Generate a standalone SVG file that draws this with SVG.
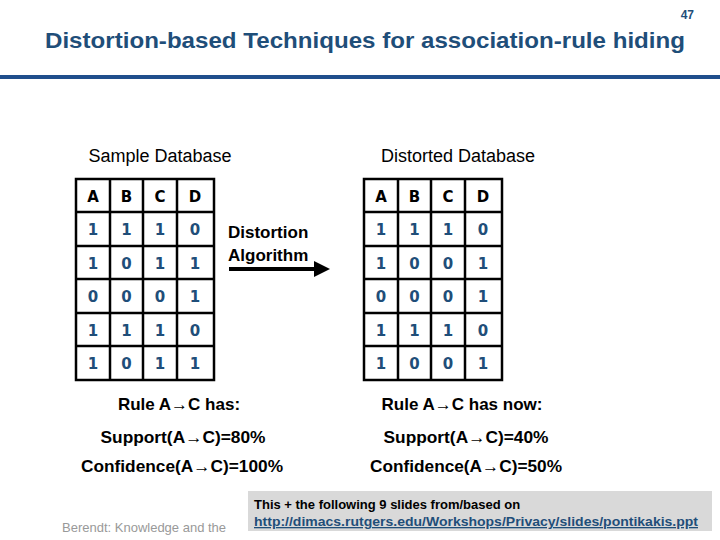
<svg xmlns="http://www.w3.org/2000/svg" width="720" height="540" viewBox="0 0 720 540">
<style>
.t{font-family:"Liberation Sans",Arial,sans-serif}
.h{font-family:"DejaVu Sans",sans-serif;font-weight:bold;font-size:15px;fill:#000;text-anchor:middle}
.d{font-family:"DejaVu Sans",sans-serif;font-weight:bold;font-size:15px;fill:#1f4e79;text-anchor:middle}
.g{fill:none;stroke:#000;stroke-width:2.5}
.r{font-family:"Liberation Sans",Arial,sans-serif;font-weight:bold;font-size:17px;text-anchor:middle;fill:#000}
</style>
<defs><marker id="ah" markerWidth="4" markerHeight="4" refX="1" refY="2" orient="auto"><path d="M0,0L4,2L0,4z" fill="#000"/></marker></defs>
<rect width="720" height="540" fill="#fff"/>
<text class="t" x="694" y="19" font-size="12" font-weight="bold" fill="#1f4e79" text-anchor="end">47</text>
<text class="t" x="365" y="48" font-size="22" font-weight="bold" fill="#1f4e79" text-anchor="middle" textLength="640" lengthAdjust="spacingAndGlyphs">Distortion-based Techniques for association-rule hiding</text>
<rect x="0" y="75" width="720" height="4" fill="#1f4e8c"/>
<g id="sample">
<text class="t" x="160" y="162" font-size="18" text-anchor="middle">Sample Database</text>
<g class="g"><rect x="76" y="179" width="138" height="201"/><path d="M110,179V380M143,179V380M177,179V380M76,212H214M76,246H214M76,279H214M76,313H214M76,346H214"/></g>
<g class="h"><text x="93" y="202">A</text><text x="126.5" y="202">B</text><text x="160" y="202">C</text><text x="195" y="202">D</text></g>
<g class="d">
<text x="93" y="235">1</text><text x="126.5" y="235">1</text><text x="160" y="235">1</text><text x="195" y="235">0</text>
<text x="93" y="269">1</text><text x="126.5" y="269">0</text><text x="160" y="269">1</text><text x="195" y="269">1</text>
<text x="93" y="302">0</text><text x="126.5" y="302">0</text><text x="160" y="302">0</text><text x="195" y="302">1</text>
<text x="93" y="336">1</text><text x="126.5" y="336">1</text><text x="160" y="336">1</text><text x="195" y="336">0</text>
<text x="93" y="369">1</text><text x="126.5" y="369">0</text><text x="160" y="369">1</text><text x="195" y="369">1</text>
</g>
</g>
<g id="algo">
<text class="t" x="228" y="238" font-size="17" font-weight="bold">Distortion</text>
<text class="t" x="228" y="261" font-size="17" font-weight="bold">Algorithm</text>
</g>
<g id="connectors"><line x1="229" y1="269" x2="318" y2="269" stroke="#000" stroke-width="4" marker-end="url(#ah)"/></g>
<g id="distorted">
<text class="t" x="458" y="162" font-size="18" text-anchor="middle">Distorted Database</text>
<g class="g"><rect x="364" y="179" width="138" height="201"/><path d="M398,179V380M431,179V380M465,179V380M364,212H502M364,246H502M364,279H502M364,313H502M364,346H502"/></g>
<g class="h"><text x="381" y="202">A</text><text x="414.5" y="202">B</text><text x="448" y="202">C</text><text x="483" y="202">D</text></g>
<g class="d">
<text x="381" y="235">1</text><text x="414.5" y="235">1</text><text x="448" y="235">1</text><text x="483" y="235">0</text>
<text x="381" y="269">1</text><text x="414.5" y="269">0</text><text x="448" y="269">0</text><text x="483" y="269">1</text>
<text x="381" y="302">0</text><text x="414.5" y="302">0</text><text x="448" y="302">0</text><text x="483" y="302">1</text>
<text x="381" y="336">1</text><text x="414.5" y="336">1</text><text x="448" y="336">1</text><text x="483" y="336">0</text>
<text x="381" y="369">1</text><text x="414.5" y="369">0</text><text x="448" y="369">0</text><text x="483" y="369">1</text>
</g>
</g>
<g id="rules">
<text class="r" x="179" y="410">Rule A→C has:</text>
<text class="r" x="183" y="443" textLength="165" lengthAdjust="spacingAndGlyphs">Support(A→C)=80%</text>
<text class="r" x="182" y="472" textLength="202" lengthAdjust="spacingAndGlyphs">Confidence(A→C)=100%</text>
<text class="r" x="462" y="410">Rule A→C has now:</text>
<text class="r" x="466" y="443" textLength="165" lengthAdjust="spacingAndGlyphs">Support(A→C)=40%</text>
<text class="r" x="466" y="472" textLength="192" lengthAdjust="spacingAndGlyphs">Confidence(A→C)=50%</text>
</g>
<text class="t" x="62" y="532" font-size="13" fill="#999">Berendt: Knowledge and the</text>
<g id="note">
<rect x="248" y="491" width="464" height="40" fill="#d9d9d9"/>
<text class="t" x="254" y="509" font-size="13" font-weight="bold" fill="#000">This + the following 9 slides from/based on</text>
<text class="t" x="254" y="526" font-size="13" font-weight="bold" fill="#1f4e79" text-decoration="underline" textLength="444" lengthAdjust="spacingAndGlyphs">http://dimacs.rutgers.edu/Workshops/Privacy/slides/pontikakis.ppt</text>
</g>
</svg>
